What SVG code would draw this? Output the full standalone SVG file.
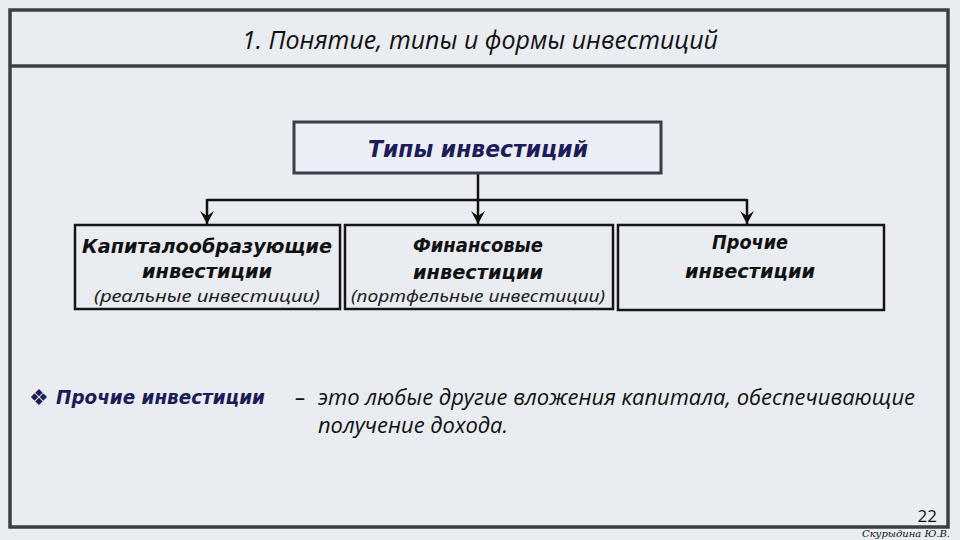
<svg xmlns="http://www.w3.org/2000/svg" width="960" height="540" viewBox="0 0 960 540">
  <defs>
    <marker id="arr" markerWidth="16" markerHeight="16" viewBox="0 0 16 16" refX="15" refY="8" orient="auto" markerUnits="userSpaceOnUse">
      <path d="M2,1 L15,8 L2,15 L7,8 Z" fill="#111"/>
    </marker>
  </defs>
  <style>
    .frame { fill: none; stroke: #3b3e44; stroke-width: 3.5; }
    .box { fill: #e9ecf1; stroke: #161616; stroke-width: 2.5; }
    .topbox { fill: #eceef6; stroke: #3a3d4c; stroke-width: 3; }
    .conn { fill: none; stroke: #111; stroke-width: 2.5; }
    .hb { font-family: "DejaVu Sans", sans-serif; font-weight: bold; font-style: italic; fill: #111; }
    .mid { text-anchor: middle; }
    .nv { fill: #1c1c58; }
    .sub { font-family: "Noto Sans", "DejaVu Sans", sans-serif; font-style: italic; fill: #222; text-anchor: middle; font-size: 16px; }
    .cal { font-family: "Open Sans", "Noto Sans", sans-serif; font-style: italic; fill: #111; }
  </style>
  <rect width="960" height="540" fill="#e9ecf0"/>

  <g id="frame">
    <rect class="frame" x="10" y="10" width="938" height="517"/>
    <line class="frame" x1="10" y1="66" x2="948" y2="66"/>
    <text class="cal mid" x="480" y="49" font-size="25" textLength="476" lengthAdjust="spacingAndGlyphs">1. Понятие, типы и формы инвестиций</text>
  </g>

  <g id="connectors">
    <line class="conn" x1="478" y1="174" x2="478" y2="224" marker-end="url(#arr)"/>
    <line class="conn" x1="207" y1="200" x2="747" y2="200"/>
    <line class="conn" x1="207" y1="199" x2="207" y2="224" marker-end="url(#arr)"/>
    <line class="conn" x1="747" y1="199" x2="747" y2="224" marker-end="url(#arr)"/>
  </g>

  <g id="node-types">
    <rect class="topbox" x="294" y="122" width="367" height="51"/>
    <text class="hb nv mid" x="478" y="157" font-size="23" textLength="220" lengthAdjust="spacingAndGlyphs">Типы инвестиций</text>
  </g>

  <g id="node-capital">
    <rect class="box" x="75" y="225" width="265" height="84"/>
    <text class="hb mid" x="207" y="253" font-size="19" textLength="250" lengthAdjust="spacingAndGlyphs">Капиталообразующие</text>
    <text class="hb mid" x="207" y="278" font-size="19" textLength="130" lengthAdjust="spacingAndGlyphs">инвестиции</text>
    <text class="sub" x="207" y="302" textLength="226" lengthAdjust="spacingAndGlyphs">(реальные  инвестиции)</text>
  </g>

  <g id="node-financial">
    <rect class="box" x="345" y="225" width="268" height="84"/>
    <text class="hb mid" x="478" y="252" font-size="19" textLength="130" lengthAdjust="spacingAndGlyphs">Финансовые</text>
    <text class="hb mid" x="478" y="279" font-size="19" textLength="130" lengthAdjust="spacingAndGlyphs">инвестиции</text>
    <text class="sub" x="478" y="302" textLength="254" lengthAdjust="spacingAndGlyphs">(портфельные инвестиции)</text>
  </g>

  <g id="node-other">
    <rect class="box" x="618" y="225" width="266" height="85"/>
    <text class="hb mid" x="750" y="249" font-size="19" textLength="76" lengthAdjust="spacingAndGlyphs">Прочие</text>
    <text class="hb mid" x="750" y="278" font-size="19" textLength="130" lengthAdjust="spacingAndGlyphs">инвестиции</text>
  </g>

  <g id="definition">
    <text class="nv" x="29" y="405" font-family="DejaVu Sans, sans-serif" font-size="22">❖</text>
    <text class="hb nv" x="56" y="404" font-size="20" textLength="209" lengthAdjust="spacingAndGlyphs">Прочие инвестиции</text>
    <text class="cal" x="295" y="405" font-size="21">–</text>
    <text class="cal" x="318" y="405" font-size="21" textLength="597" lengthAdjust="spacingAndGlyphs">это любые другие вложения капитала, обеспечивающие</text>
    <text class="cal" x="318" y="433" font-size="21" textLength="190" lengthAdjust="spacingAndGlyphs">получение дохода.</text>
  </g>

  <g id="footer">
    <text x="937" y="522" font-family="Open Sans, sans-serif" font-size="17" fill="#111" text-anchor="end">22</text>
    <text x="950" y="537" font-family="DejaVu Serif, serif" font-style="italic" font-size="10" fill="#111" text-anchor="end" textLength="88" lengthAdjust="spacingAndGlyphs">Скурыдина Ю.В.</text>
  </g>
</svg>
